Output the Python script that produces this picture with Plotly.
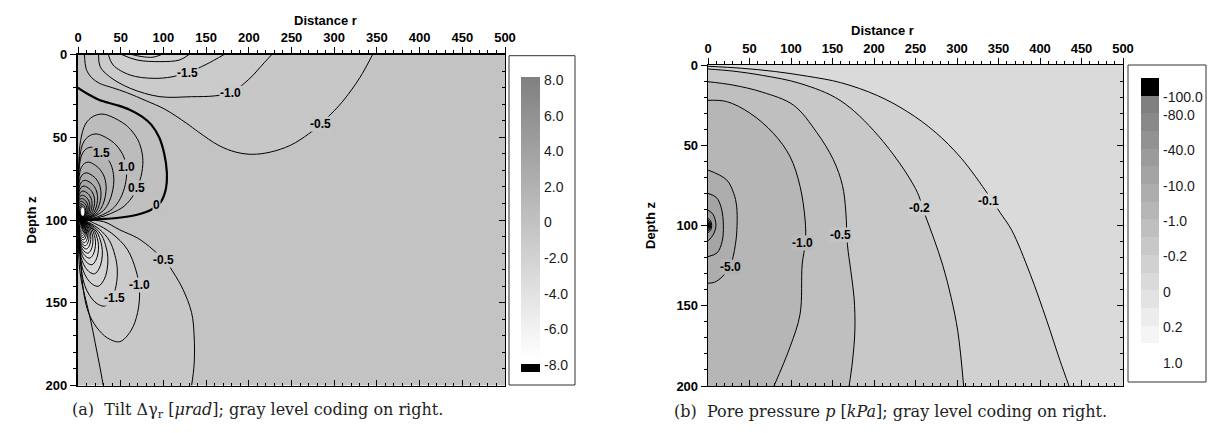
import plotly.graph_objects as go

FIG_W, FIG_H = 1211, 433


def px(x):
    return x / FIG_W


def py(y):
    return 1 - y / FIG_H


R_RANGE = [0, 500]
Z_RANGE = [200, 0]
SOURCE_Z = 100

# ---------------- Panel (a): tilt ----------------
# thick zero contour (meets axis at z=20 and at the source)
A_ZERO_R = [0, 4, 12, 25, 45, 61, 75, 86, 95, 101, 104, 103, 97, 85, 68, 45, 25, 8]
A_ZERO_Z = [20, 21.5, 24, 27.5, 30.5, 33.5, 37.5, 42.5, 50, 60, 71, 81, 89, 94, 97, 98.8, 99.5, 100]

# near-surface negative contours (both ends on the top edge)
A_TOP_LEVELS = [-0.5, -1.0, -1.5, -2.0, -2.5]
A_TOP_R = [
    [7.6, 9.8, 16, 25.5, 40, 57, 80, 101.5, 127, 141, 165, 185, 204, 225, 249, 270, 284, 300, 312, 330, 345],
    [24, 26, 37, 61, 96, 133, 160, 179, 200, 218, 227],
    [35.5, 41, 61, 88, 110, 128, 150, 171],
    [51, 69, 96, 119, 130],
    [63, 75, 88, 98],
]
A_TOP_Z = [
    [0, 9, 14, 17.5, 20, 23, 28, 33, 41.5, 46.8, 55, 59, 60.3, 59, 54.8, 48, 42, 34, 27, 14, 0],
    [0, 7.4, 13.4, 20.4, 25.5, 25.5, 25, 23, 15, 5, 0],
    [0, 6.3, 12.4, 14.4, 13.5, 11, 6, 0],
    [0, 3.3, 4.3, 3.3, 0],
    [0, 1.3, 1.6, 0],
]

# lower -0.5 contour (both ends on the bottom edge)
A_LOW05_R = [29.6, 25, 20, 15, 9, 4, 1.5, 0.5, 1, 4, 10, 30, 49, 70, 88, 104, 112, 123, 133, 136, 136, 133]
A_LOW05_Z = [200, 187, 174, 161, 148, 137, 127, 115, 105, 101, 100.3, 101, 106, 111, 118, 126, 132, 142, 156, 170, 187, 200]

# closed loops around the source: shape read from the 0.5 / -1.0 loops,
# size (width W in r, depth D in z) read per loop
UP_TU = [0.10, 0.30, 0.50, 0.71, 0.87, 0.97, 1.00, 0.97, 0.92, 0.83, 0.73, 0.51, 0.37, 0.23, 0.115, 0.04, 0.013, 0.005, 0.02, 0.10]
UP_TV = [0.00, 0.02, 0.06, 0.13, 0.25, 0.41, 0.56, 0.68, 0.76, 0.84, 0.90, 0.977, 1.0, 0.977, 0.906, 0.75, 0.55, 0.30, 0.08, 0.00]
UP_LEVELS = [0.5, 1.0, 1.5, 2.0, 2.5, 3.0, 3.5, 4.0, 4.5, 5.0, 5.5, 6.0, 6.5, 7.0, 7.5, 8.0, 8.5, 9.0, 9.5, 10.0]
UP_W = [76, 57, 42, 33, 27, 23, 19.5, 16.5, 14, 12, 10.5, 9, 8, 7, 6, 5, 4.3, 3.7, 3.1, 2.6]
UP_D = [64, 52, 44, 35, 28.5, 24, 20.5, 17.5, 15, 13, 11.3, 9.8, 8.6, 7.5, 6.5, 5.5, 4.7, 4.0, 3.4, 2.9]

LOW_TU = [0.10, 0.28, 0.55, 0.80, 0.94, 1.00, 0.97, 0.86, 0.68, 0.48, 0.30, 0.17, 0.10, 0.06, 0.03, 0.02, 0.10]
LOW_TV = [0.00, 0.03, 0.11, 0.24, 0.41, 0.57, 0.76, 0.91, 1.00, 0.97, 0.88, 0.76, 0.62, 0.45, 0.25, 0.06, 0.00]
LOW_LEVELS = [-1.0, -1.5, -2.0, -2.5, -3.0, -3.5, -4.0, -4.5, -5.0, -5.5, -6.0, -6.5, -7.0, -7.5, -8.0,
              -8.5, -9.0, -9.5, -10.0]
LOW_W = [72, 46, 35, 28.5, 24, 20.5, 17.5, 15, 13, 11.5, 10, 9, 8, 7, 6.2, 5.5, 4.8, 4.2, 3.6]
LOW_D = [73.5, 52, 40, 32.5, 27, 23, 20, 17.5, 15.5, 13.7, 12, 10.6, 9.4, 8.3, 7.3, 6.4, 5.6, 4.9, 4.2]

A_SPOT_R = [3.5, 7.5]
A_SPOT_Z = [92.5, 97.5]

A_LABEL_TEXT = ["-1.5", "-1.0", "-0.5", "1.5", "1.0", "0.5", "0", "-0.5", "-1.0", "-1.5"]
A_LABEL_LEVEL = [-1.5, -1.0, -0.5, 1.5, 1.0, 0.5, 0, -0.5, -1.0, -1.5]
A_LABEL_R = [128, 179, 284, 28, 57, 69, 92, 100, 72.5, 43]
A_LABEL_Z = [11, 23, 42, 59.7, 67.8, 80.9, 91, 124, 139.3, 147.3]

A_CB_TICKS = [8, 6, 4, 2, 0, -2, -4, -6, -8]
A_CB_TEXT = ["8.0", "6.0", "4.0", "2.0", "0", "-2.0", "-4.0", "-6.0", "-8.0"]

# ---------------- Panel (b): pore pressure ----------------
B_OPEN_LEVELS = [-0.1, -0.2, -0.5, -1.0]
B_OPEN_R = [
    [0, 40, 80, 120, 160, 204, 240, 273.5, 305, 338, 352, 366, 388, 408, 424, 435],
    [0, 30, 66, 111, 159, 205, 250, 262, 272, 283, 293, 301, 308],
    [0, 30, 66, 103, 131, 151, 162, 166, 168, 172, 176, 177, 174, 170],
    [0, 22.5, 50.6, 78.7, 98.8, 111, 117, 117.5, 113.5, 111, 99, 79.5],
]
B_OPEN_Z = [
    [0.8, 2, 4, 7, 11, 19, 29, 41.7, 58, 81, 92, 103, 130, 159, 184, 200],
    [2.5, 3.8, 6.5, 11.5, 22, 44, 77, 94, 108, 125, 145, 166, 200],
    [10.4, 12.5, 17, 25, 42, 59, 75, 91, 112, 128, 145, 165, 185, 200],
    [22, 22.8, 30, 42.5, 57, 75.8, 96.6, 110, 124, 155, 175.5, 200],
]
B_RING_LEVELS = [-5, -10, -20, -40, -60, -80, -100]
B_RING_R = [
    [0, 22.5, 31, 34.5, 35, 33, 26.5, 18, 8, 0],
    [0, 10, 16, 18.5, 17, 11, 0],
    [0, 6, 9.6, 6, 0],
    [0, 3, 4.5, 3, 0],
    [0, 2.2, 3.2, 2.2, 0],
    [0, 1.6, 2.4, 1.6, 0],
    [0, 1.1, 1.7, 1.1, 0],
]
B_RING_Z = [
    [65.4, 71.6, 80, 88, 100, 112, 125.7, 131.5, 135.3, 136],
    [80, 82.5, 89, 100, 110, 117, 119.4],
    [90.4, 93, 100, 106, 109.6],
    [95.5, 97, 100, 103, 104.5],
    [96.7, 97.8, 100, 102.2, 103.3],
    [97.6, 98.4, 100, 101.6, 102.4],
    [98.4, 98.9, 100, 101.1, 101.6],
]
B_BOUNDS = [-100, -80, -60, -40, -20, -10, -5, -1, -0.5, -0.2, -0.1, 0, 0.1, 0.2, 0.5, 1.0]
B_SWATCH = [128, 137, 146, 155, 164, 173, 182, 191, 200, 209, 218, 227, 236, 245, 255]

B_LABEL_TEXT = ["-0.1", "-0.2", "-0.5", "-1.0", "-5.0"]
B_LABEL_LEVEL = [-0.1, -0.2, -0.5, -1.0, -5]
B_LABEL_R = [338, 255, 160, 114, 26.5]
B_LABEL_Z = [85, 89, 105.7, 111, 125.7]

B_CB_TICKS = [15, 14, 12, 10, 8, 6, 4, 2, 0]
B_CB_TEXT = ["-100.0", "-80.0", "-40.0", "-10.0", "-1.0", "-0.2", "0", "0.2", "1.0"]

CAPTION_A = "(a)  Tilt Δγ<sub>r</sub> [<i>μrad</i>]; gray level coding on right."
CAPTION_B = "(b)  Pore pressure <i>p</i> [<i>kPa</i>]; gray level coding on right."


# ---------------- helpers ----------------
def g(v):
    v = int(round(min(255, max(0, v))))
    return f"rgb({v},{v},{v})"


def gray_a(val):
    return g(193.5 - 7.9 * val)


def gray_b_inside(level):
    j = B_BOUNDS.index(level)
    return g(0) if j == 0 else g(B_SWATCH[j - 1])


def ext(p, q, f=0.6):
    return (p[0] + (p[0] - q[0]) * f, p[1] + (p[1] - q[1]) * f)


def fill_tr(rs, zs, color, xa, ya):
    return go.Scatter(x=rs, y=zs, mode="lines", fill="toself", fillcolor=color,
                      line=dict(width=0, shape="spline", color=color),
                      hoverinfo="skip", showlegend=False, xaxis=xa, yaxis=ya)


def line_tr(rs, zs, xa, ya, width=1.0):
    return go.Scatter(x=rs, y=zs, mode="lines",
                      line=dict(width=width, shape="spline", color="black"),
                      hoverinfo="skip", showlegend=False, xaxis=xa, yaxis=ya)


def extended(rs, zs):
    pts = list(zip(rs, zs))
    s = ext(pts[0], pts[1])
    e = ext(pts[-1], pts[-2])
    return [s] + pts + [e]


fills_a, lines_a, fills_b, lines_b = [], [], [], []

# panel a: zero contour region (closed along the axis)
pts = extended(A_ZERO_R, A_ZERO_Z)
fills_a.append(fill_tr([p[0] for p in pts], [p[1] for p in pts], gray_a(0.25), "x", "y"))
lines_a.append(line_tr(A_ZERO_R, A_ZERO_Z, "x3", "y3", width=2.2))

for lvl, w, d in zip(UP_LEVELS, UP_W, UP_D):
    rs = [u * w for u in UP_TU]
    zs = [SOURCE_Z - v * d for v in UP_TV]
    fills_a.append(fill_tr(rs, zs, gray_a(lvl + 0.25), "x", "y"))
    lines_a.append(line_tr(rs, zs, "x3", "y3"))

for lvl, rs, zs in zip(A_TOP_LEVELS, A_TOP_R, A_TOP_Z):
    pts = extended(rs, zs)
    fills_a.append(fill_tr([p[0] for p in pts], [p[1] for p in pts], gray_a(lvl - 0.25), "x", "y"))
    lines_a.append(line_tr(rs, zs, "x3", "y3"))

pts = extended(A_LOW05_R, A_LOW05_Z)
fills_a.append(fill_tr([p[0] for p in pts], [p[1] for p in pts], gray_a(-0.75), "x", "y"))
lines_a.append(line_tr(A_LOW05_R, A_LOW05_Z, "x3", "y3"))

for lvl, w, d in zip(LOW_LEVELS, LOW_W, LOW_D):
    rs = [u * w for u in LOW_TU]
    zs = [SOURCE_Z + v * d for v in LOW_TV]
    fills_a.append(fill_tr(rs, zs, gray_a(lvl - 0.25), "x", "y"))
    lines_a.append(line_tr(rs, zs, "x3", "y3"))

# panel b
for lvl, rs, zs in zip(B_OPEN_LEVELS, B_OPEN_R, B_OPEN_Z):
    pts = extended(rs, zs)
    far = Z_RANGE[0] + 30
    pts += [(pts[-1][0], far), (-30, far), (-30, pts[0][1])]
    fills_b.append(fill_tr([p[0] for p in pts], [p[1] for p in pts], gray_b_inside(lvl), "x2", "y2"))
    lines_b.append(line_tr(rs, zs, "x4", "y4"))

for lvl, rs, zs in zip(B_RING_LEVELS, B_RING_R, B_RING_Z):
    fills_b.append(fill_tr(rs, zs, gray_b_inside(lvl), "x2", "y2"))
    lines_b.append(line_tr(rs, zs, "x4", "y4"))

# ---------------- colour bars ----------------
A_CB_PX = (77, 372)
A_CB_TOP, A_CB_BOT = 8.11, -8.45
span = A_CB_TOP - A_CB_BOT
a_scale = [[0, "black"], [(-8.0 - A_CB_BOT) / span, "black"],
           [(-8.0 - A_CB_BOT) / span, "white"], [(-7.66 - A_CB_BOT) / span, "white"],
           [1, "rgb(128,128,128)"]]
B_CB_PX = (78, 361)
nb = 16
b_scale = []
for b in range(nb):
    col = "black" if b == 15 else g(B_SWATCH[14 - b])
    b_scale.append([b / nb, col])
    b_scale.append([(b + 1) / nb, col])

cb_a = go.Scatter(x=[A_LABEL_R[0]], y=[A_LABEL_Z[0]], mode="markers", hoverinfo="skip", showlegend=False,
                  marker=dict(size=1, opacity=0, color=[0], colorscale=a_scale, cmin=A_CB_BOT, cmax=A_CB_TOP,
                              showscale=True,
                              colorbar=dict(x=px(521), xanchor="left", xpad=0, y=py(sum(A_CB_PX) / 2),
                                            yanchor="middle", ypad=0, len=A_CB_PX[1] - A_CB_PX[0],
                                            lenmode="pixels", thickness=19, thicknessmode="pixels",
                                            outlinewidth=0, showticklabels=False, ticks="")),
                  xaxis="x", yaxis="y")
cb_b = go.Scatter(x=[B_LABEL_R[0]], y=[B_LABEL_Z[0]], mode="markers", hoverinfo="skip", showlegend=False,
                  marker=dict(size=1, opacity=0, color=[8], colorscale=b_scale, cmin=0, cmax=nb,
                              showscale=True,
                              colorbar=dict(x=px(1141), xanchor="left", xpad=0, y=py(sum(B_CB_PX) / 2),
                                            yanchor="middle", ypad=0, len=B_CB_PX[1] - B_CB_PX[0],
                                            lenmode="pixels", thickness=18, thicknessmode="pixels",
                                            outlinewidth=0, showticklabels=False, ticks="")),
                  xaxis="x2", yaxis="y2")

fig = go.Figure(fills_a + fills_b + lines_a + lines_b + [cb_a, cb_b])

tick_font = dict(family="Liberation Sans, Arial", size=13, color="black", weight="bold")


def base_x(domain, anchor, lw):
    return dict(domain=domain, anchor=anchor, range=R_RANGE, side="top", showgrid=False, zeroline=False,
                automargin=False,
                showline=True, linecolor="black", linewidth=lw, ticks="outside", ticklen=6, tickwidth=1,
                tickcolor="black", dtick=50, tick0=0, tickfont=tick_font,
                minor=dict(ticks="outside", dtick=10, ticklen=3, tickcolor="black", tickwidth=1))


def base_y(domain, anchor, lw):
    return dict(domain=domain, anchor=anchor, range=Z_RANGE, showgrid=False, zeroline=False,
                automargin=False,
                showline=True, linecolor="black", linewidth=lw, ticks="outside", ticklen=6, tickwidth=1,
                tickcolor="black", dtick=50, tick0=0, tickfont=tick_font,
                minor=dict(ticks="outside", dtick=10, ticklen=3, tickcolor="black", tickwidth=1))


def over_x(over, anchor):
    return dict(overlaying=over, anchor=anchor, range=R_RANGE, side="bottom", showgrid=False, zeroline=False,
                automargin=False,
                showline=True, linecolor="black", linewidth=1.3, ticks="inside", ticklen=6, tickcolor="black",
                dtick=50, tick0=0, showticklabels=False,
                minor=dict(ticks="inside", dtick=10, ticklen=3, tickcolor="black"))


def over_y(over, anchor):
    return dict(overlaying=over, anchor=anchor, range=Z_RANGE, side="right", showgrid=False, zeroline=False,
                automargin=False,
                showline=True, linecolor="black", linewidth=1.3, ticks="inside", ticklen=6, tickcolor="black",
                dtick=50, tick0=0, showticklabels=False,
                minor=dict(ticks="inside", dtick=10, ticklen=3, tickcolor="black"))


A_XD = [px(78), px(505)]
A_YD = [py(385.5), py(54.5)]
B_XD = [px(708), px(1123)]
B_YD = [py(386), py(65)]

fig.update_layout(
    width=FIG_W, height=FIG_H, autosize=False,
    margin=dict(l=0, r=0, t=0, b=0, pad=0, autoexpand=False),
    paper_bgcolor="white", plot_bgcolor="white",
    showlegend=False,
    xaxis=base_x(A_XD, "y", 1.3), yaxis=base_y(A_YD, "x", 2.2),
    xaxis3=over_x("x", "y3"), yaxis3=over_y("y", "x3"),
    xaxis2=base_x(B_XD, "y2", 1.3), yaxis2=base_y(B_YD, "x2", 1.3),
    xaxis4=over_x("x2", "y4"), yaxis4=over_y("y2", "x4"),
)

shapes = [
    dict(type="rect", xref="x domain", yref="y domain", x0=0, x1=1, y0=0, y1=1,
         fillcolor=gray_a(-0.25), line=dict(width=0), layer="below"),
    dict(type="rect", xref="x2 domain", yref="y2 domain", x0=0, x1=1, y0=0, y1=1,
         fillcolor=g(B_SWATCH[10]), line=dict(width=0), layer="below"),
    dict(type="circle", xref="x", yref="y", x0=A_SPOT_R[0], x1=A_SPOT_R[1], y0=A_SPOT_Z[0], y1=A_SPOT_Z[1],
         fillcolor="white", line=dict(width=0)),
    dict(type="rect", xref="paper", yref="paper", x0=px(509), x1=px(575), y0=py(385), y1=py(55.7),
         fillcolor="white", line=dict(color="#333333", width=1), layer="below"),
    dict(type="rect", xref="paper", yref="paper", x0=px(1128), x1=px(1206), y0=py(382), y1=py(65),
         fillcolor="white", line=dict(color="#333333", width=1), layer="below"),
]
fig.update_layout(shapes=shapes)

lab_font = dict(family="Liberation Sans, Arial", size=12, color="black", weight="bold")
ann = []
for t, lv, r, z in zip(A_LABEL_TEXT, A_LABEL_LEVEL, A_LABEL_R, A_LABEL_Z):
    ann.append(dict(x=r, y=z, xref="x", yref="y", text=t, showarrow=False, font=lab_font,
                    bgcolor=gray_a(lv), borderpad=0))
for t, lv, r, z in zip(B_LABEL_TEXT, B_LABEL_LEVEL, B_LABEL_R, B_LABEL_Z):
    j = B_BOUNDS.index(lv)
    ann.append(dict(x=r, y=z, xref="x2", yref="y2", text=t, showarrow=False, font=lab_font,
                    bgcolor=g((B_SWATCH[j - 1] + B_SWATCH[j]) / 2), borderpad=0))

# colour-bar tick labels, placed at the value positions along each bar
cb_font = dict(family="Liberation Sans, Arial", size=14, color="#1a1a1a")
for v, t in zip(A_CB_TICKS, A_CB_TEXT):
    ypix = A_CB_PX[0] + (A_CB_TOP - v) / span * (A_CB_PX[1] - A_CB_PX[0])
    ann.append(dict(x=px(542), y=py(ypix + 1), xref="paper", yref="paper", text=t, showarrow=False,
                    font=cb_font, xanchor="left", yanchor="middle"))
for v, t in zip(B_CB_TICKS, B_CB_TEXT):
    ypix = B_CB_PX[1] - v / nb * (B_CB_PX[1] - B_CB_PX[0])
    ann.append(dict(x=px(1161), y=py(ypix + 1.5), xref="paper", yref="paper", text=t, showarrow=False,
                    font=cb_font, xanchor="left", yanchor="middle"))

title_font = dict(family="Liberation Sans, Arial", size=13, color="black", weight="bold")
ann += [
    dict(x=px(291.5), y=py(11), xref="paper", yref="paper", text="Distance r", showarrow=False, font=title_font),
    dict(x=px(915.5), y=py(21), xref="paper", yref="paper", text="Distance r", showarrow=False, font=title_font),
    dict(x=px(21), y=py(220), xref="paper", yref="paper", text="Depth z", textangle=-90, showarrow=False,
         font=title_font),
    dict(x=px(650), y=py(226), xref="paper", yref="paper", text="Depth z", textangle=-90, showarrow=False,
         font=title_font),
]
cap_font = dict(family="DejaVu Serif", size=16, color="#222222")
ann += [
    dict(x=px(70), y=py(410), xref="paper", yref="paper", text=CAPTION_A, showarrow=False, font=cap_font,
         xanchor="left", yanchor="middle"),
    dict(x=px(672), y=py(411), xref="paper", yref="paper", text=CAPTION_B, showarrow=False, font=cap_font,
         xanchor="left", yanchor="middle"),
]
fig.update_layout(annotations=ann)

# remove the default page margin so the figure starts at the window corner
fig.write_html("out.html", config={"displayModeBar": False, "staticPlot": True},
               post_script="document.body.style.margin='0';document.body.style.overflow='hidden';")
